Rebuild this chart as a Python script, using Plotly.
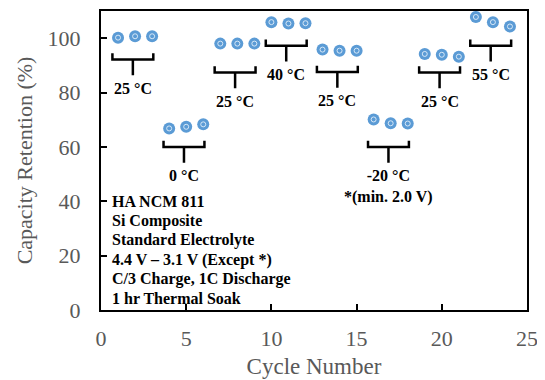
import plotly.graph_objects as go

# ---- data ----
cycles = list(range(1, 25))
retention = [100.2, 100.7, 100.7,
             66.8, 67.4, 68.3,
             98.0, 98.0, 98.0,
             105.9, 105.4, 105.5,
             95.8, 95.4, 95.4,
             70.1, 68.7, 68.6,
             94.2, 93.9, 93.2,
             107.8, 105.9, 104.3]

group_first = [1, 4, 7, 10, 13, 16, 19, 22]
group_last = [3, 6, 9, 12, 15, 18, 21, 24]
group_labels = ["25 °C", "0 °C", "25 °C", "40 °C", "25 °C", "-20 °C<br>*(min. 2.0 V)", "25 °C", "55 °C"]
bracket_y = [92.2, 60.0, 87.4, 97.2, 87.6, 60.0, 87.4, 97.2]

info_lines = ["HA NCM 811", "Si Composite", "Standard Electrolyte",
              "4.4 V – 3.1 V (Except *)", "C/3 Charge, 1C Discharge", "1 hr Thermal Soak"]

x_ticks = [0, 5, 10, 15, 20, 25]
y_ticks = [0, 20, 40, 60, 80, 100]

SERIF = "Liberation Serif"
BLUE = "#5B9BD5"

fig = go.Figure()
fig.add_trace(go.Scatter(x=cycles, y=retention, mode="markers",
                         marker=dict(size=12, color=BLUE, line=dict(width=0)),
                         showlegend=False, hoverinfo="skip"))
fig.add_trace(go.Scatter(x=cycles, y=retention, mode="markers",
                         marker=dict(size=5, symbol="circle-open", color="rgba(225,238,250,0.9)",
                                     line=dict(width=1)),
                         showlegend=False, hoverinfo="skip"))

shapes = []
annotations = []
for f, l, lab, by in zip(group_first, group_last, group_labels, bracket_y):
    left = f - 0.33
    right = l + 0.07
    mid = (left + right) / 2
    top = by + 2.3
    bot = by - 5.8
    path = f"M {left},{top} L {left},{by} L {right},{by} L {right},{top} M {mid},{by} L {mid},{bot}"
    shapes.append(dict(type="path", path=path, xref="x", yref="y",
                       line=dict(color="black", width=2.5)))
    annotations.append(dict(x=mid, y=bot - 1.0, xref="x", yref="y", text="<b>" + lab + "</b>",
                            showarrow=False, yanchor="top", xanchor="center",
                            font=dict(family=SERIF, size=16, color="black")))

for i, line in enumerate(info_lines):
    annotations.append(dict(x=0.55, y=39.8 - i * 7.1, xref="x", yref="y", text="<b>" + line + "</b>",
                            showarrow=False, xanchor="left", yanchor="middle",
                            font=dict(family=SERIF, size=16, color="black")))

# page body has an 8px default margin, so the figure is sized/offset to compensate
fig.update_layout(
    width=537, height=372,
    margin=dict(l=93, r=18, t=3, b=70),
    paper_bgcolor="white", plot_bgcolor="white",
    shapes=shapes, annotations=annotations,
    xaxis=dict(range=[0, 25], tickvals=x_ticks, ticks="inside", ticklen=6, tickwidth=2,
               tickcolor="black", showline=True, linecolor="black", linewidth=2, mirror=True,
               showgrid=False, zeroline=False, automargin=False, ticklabelstandoff=8,
               tickfont=dict(family=SERIF, size=22, color="#595959"),
               title=dict(text="Cycle Number", font=dict(family=SERIF, size=23, color="#595959"),
                          standoff=7)),
    yaxis=dict(range=[0, 110], tickvals=y_ticks, ticks="inside", ticklen=6, tickwidth=2,
               tickcolor="black", showline=True, linecolor="black", linewidth=2, mirror=True,
               showgrid=False, zeroline=False, ticklabelstandoff=14, automargin=False,
               tickfont=dict(family=SERIF, size=22, color="#595959"),
               title=dict(text="Capacity Retention (%)", font=dict(family=SERIF, size=22, color="#595959"),
                          standoff=9)),
)

fig.write_html("out.html")
